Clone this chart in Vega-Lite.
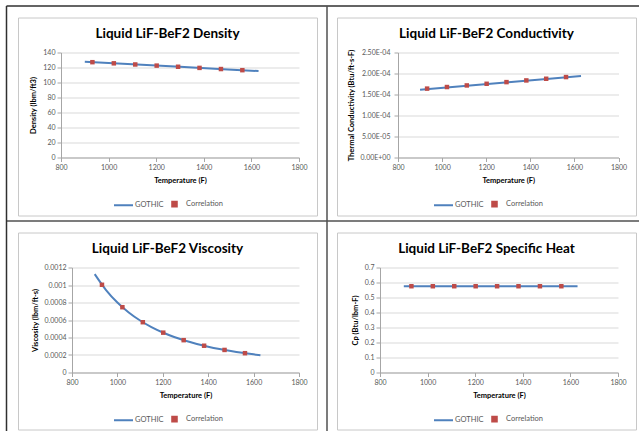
{
  "$schema": "https://vega.github.io/schema/vega-lite/v6.json",
  "background": "white",
  "padding": {"left": 2, "top": 4.5, "right": 0, "bottom": 0},
  "bounds": "flush",
  "columns": 2,
  "spacing": {"row": 17, "column": 20},
  "resolve": {"scale": {"color": "independent"}, "legend": {"color": "independent"}},
  "config": {
    "view": {"stroke": "#c8c8c8", "strokeWidth": 1},
    "title": {"font": "Lato", "fontSize": 13.5, "fontWeight": "bold", "color": "#000000", "anchor": "middle", "frame": "group", "offset": -23, "baseline": "alphabetic"},
    "axis": {"labelFont": "Lato", "labelFontSize": 7, "labelColor": "#595959", "titleFont": "Lato", "titleFontSize": 7.5, "titleFontWeight": "bold", "titleColor": "#000000", "domainColor": "#a6a6a6", "tickColor": "#a6a6a6", "tickSize": 4, "labelPadding": 2, "gridColor": "#d9d9d9", "labelOverlap": false, "labelFlush": false},
    "axisX": {"grid": false, "titlePadding": 6},
    "axisY": {"grid": true, "titlePadding": 5},
    "legend": {"orient": "none", "direction": "horizontal", "legendY": 176, "labelFont": "Lato", "labelFontSize": 7.5, "labelColor": "#595959", "symbolSize": 361, "labelOffset": 1, "columnPadding": 0}
  },
  "concat": [
    {
      "width": 299, "height": 198,
      "title": {"text": "Liquid LiF-BeF2 Density", "offset": -35.25},
      "resolve": {"scale": {"x": "independent", "y": "independent"}, "axis": {"x": "independent", "y": "independent"}},
      "layer": [
        {
          "encoding": {
            "x": {"field": "T", "type": "quantitative", "scale": {"domain": [800, 1800], "range": [43, 281], "nice": false}, "axis": {"orient": "bottom", "values": [800, 1000, 1200, 1400, 1600, 1800], "format": "d", "offset": -58, "title": "Temperature (F)"}},
            "y": {"field": "v", "type": "quantitative", "scale": {"domain": [0, 140], "range": [140, 35], "nice": false}, "axis": {"orient": "left", "values": [0, 20, 40, 60, 80, 100, 120, 140], "format": "d", "offset": -43, "title": "Density (lbm/ft3)"}},
            "color": {"field": "series", "type": "nominal", "scale": {"domain": ["GOTHIC", "Correlation"], "range": ["#4F81BD", "#BE4B48"]}, "legend": {"title": null, "legendX": 95, "encode": {"symbols": {"update": {"shape": {"signal": "datum.value === 'GOTHIC' ? 'stroke' : 'M-0.24,-0.24H0.24V0.24H-0.24Z'"}, "fill": {"signal": "datum.value === 'GOTHIC' ? 'transparent' : '#BE4B48'"}, "stroke": {"signal": "datum.value === 'GOTHIC' ? '#4F81BD' : 'transparent'"}, "strokeWidth": {"value": 2}, "opacity": {"value": 1}}}}}}
          },
          "layer": [
            {
              "data": {"values": [
                {"T": 900, "v": 127.63, "series": "GOTHIC"},
                {"T": 1100, "v": 124.24, "series": "GOTHIC"},
                {"T": 1300, "v": 120.86, "series": "GOTHIC"},
                {"T": 1500, "v": 117.47, "series": "GOTHIC"},
                {"T": 1630, "v": 115.27, "series": "GOTHIC"}
              ]},
              "mark": {"type": "line", "strokeWidth": 2}
            },
            {
              "data": {"values": [
                {"T": 932, "v": 127.09, "series": "Correlation"},
                {"T": 1022, "v": 125.57, "series": "Correlation"},
                {"T": 1112, "v": 124.04, "series": "Correlation"},
                {"T": 1202, "v": 122.52, "series": "Correlation"},
                {"T": 1292, "v": 121.00, "series": "Correlation"},
                {"T": 1382, "v": 119.48, "series": "Correlation"},
                {"T": 1472, "v": 117.95, "series": "Correlation"},
                {"T": 1562, "v": 116.43, "series": "Correlation"}
              ]},
              "mark": {"type": "point", "shape": "square", "filled": true, "size": 20, "opacity": 1}
            }
          ]
        },
        {
          "data": {"values": [{"a": 0, "b": 0}]},
          "mark": {"type": "point", "opacity": 0},
          "encoding": {
            "x": {"field": "a", "type": "quantitative", "scale": {"domain": [0, 1], "range": [-12, 624], "nice": false, "zero": false}, "axis": {"orient": "top", "offset": 12, "ticks": false, "labels": false, "grid": false, "title": null, "domainColor": "#303030", "domainWidth": 1.5}},
            "y": {"field": "b", "type": "quantitative", "scale": {"domain": [0, 1], "range": [414, -12], "nice": false, "zero": false}, "axis": {"orient": "left", "offset": 12, "ticks": false, "labels": false, "grid": false, "title": null, "domainColor": "#303030", "domainWidth": 1.5}}
          }
        },
        {
          "data": {"values": [{"a": 0, "b": 0}]},
          "mark": {"type": "point", "opacity": 0},
          "encoding": {
            "x": {"field": "a", "type": "quantitative", "scale": {"domain": [0, 1], "range": [-12, 624], "nice": false, "zero": false}, "axis": {"orient": "bottom", "offset": 5, "ticks": false, "labels": false, "grid": false, "title": null, "domainColor": "#505050", "domainWidth": 1.5}},
            "y": {"field": "b", "type": "quantitative", "scale": {"domain": [0, 1], "range": [414, -12], "nice": false, "zero": false}, "axis": {"orient": "right", "offset": 9.5, "ticks": false, "labels": false, "grid": false, "title": null, "domainColor": "#505050", "domainWidth": 1.5}}
          }
        }
      ]
    },
    {
      "width": 299, "height": 198,
      "title": "Liquid LiF-BeF2 Conductivity",
      "encoding": {
        "x": {"field": "T", "type": "quantitative", "scale": {"domain": [800, 1800], "range": [61, 281.5], "nice": false}, "axis": {"values": [800, 1000, 1200, 1400, 1600, 1800], "format": "d", "offset": -58, "title": "Temperature (F)"}},
        "y": {"field": "v", "type": "quantitative", "scale": {"domain": [0, 0.00025], "range": [140, 35], "nice": false}, "axis": {"values": [0, 0.00005, 0.0001, 0.00015, 0.0002, 0.00025], "offset": -61, "labelPadding": 4, "title": "Thermal Conductivity (Btu/ft-s-F)", "titlePadding": 4, "labelExpr": "replace(replace(format(datum.value, '.2e'), 'e-', 'E-0'), 'e+', 'E+0')"}},
        "color": {"field": "series", "type": "nominal", "scale": {"domain": ["GOTHIC", "Correlation"], "range": ["#4F81BD", "#BE4B48"]}, "legend": {"title": null, "legendX": 96, "encode": {"symbols": {"update": {"shape": {"signal": "datum.value === 'GOTHIC' ? 'stroke' : 'M-0.24,-0.24H0.24V0.24H-0.24Z'"}, "fill": {"signal": "datum.value === 'GOTHIC' ? 'transparent' : '#BE4B48'"}, "stroke": {"signal": "datum.value === 'GOTHIC' ? '#4F81BD' : 'transparent'"}, "strokeWidth": {"value": 2}, "opacity": {"value": 1}}}}}}
      },
      "layer": [
        {
          "data": {"values": [
            {"T": 900, "v": 0.00016159, "series": "GOTHIC"},
            {"T": 1100, "v": 0.00017050, "series": "GOTHIC"},
            {"T": 1300, "v": 0.00017942, "series": "GOTHIC"},
            {"T": 1500, "v": 0.00018834, "series": "GOTHIC"},
            {"T": 1630, "v": 0.00019413, "series": "GOTHIC"}
          ]},
          "mark": {"type": "line", "strokeWidth": 2}
        },
        {
          "data": {"values": [
            {"T": 932, "v": 0.0001640, "series": "Correlation"},
            {"T": 1022, "v": 0.0001678, "series": "Correlation"},
            {"T": 1112, "v": 0.0001716, "series": "Correlation"},
            {"T": 1202, "v": 0.0001755, "series": "Correlation"},
            {"T": 1292, "v": 0.0001795, "series": "Correlation"},
            {"T": 1382, "v": 0.0001835, "series": "Correlation"},
            {"T": 1472, "v": 0.0001875, "series": "Correlation"},
            {"T": 1562, "v": 0.0001915, "series": "Correlation"}
          ]},
          "mark": {"type": "point", "shape": "square", "filled": true, "size": 20, "opacity": 1}
        }
      ]
    },
    {
      "width": 299, "height": 197,
      "title": "Liquid LiF-BeF2 Viscosity",
      "encoding": {
        "x": {"field": "T", "type": "quantitative", "scale": {"domain": [800, 1800], "range": [54, 281], "nice": false}, "axis": {"values": [800, 1000, 1200, 1400, 1600, 1800], "format": "d", "offset": -57, "title": "Temperature (F)"}},
        "y": {"field": "v", "type": "quantitative", "scale": {"domain": [0, 0.0012], "range": [140, 35], "nice": false}, "axis": {"values": [0, 0.0002, 0.0004, 0.0006, 0.0008, 0.001, 0.0012], "format": ".2~g", "offset": -54, "title": "Viscosity (lbm/ft-s)"}},
        "color": {"field": "series", "type": "nominal", "scale": {"domain": ["GOTHIC", "Correlation"], "range": ["#4F81BD", "#BE4B48"]}, "legend": {"title": null, "legendX": 95, "encode": {"symbols": {"update": {"shape": {"signal": "datum.value === 'GOTHIC' ? 'stroke' : 'M-0.24,-0.24H0.24V0.24H-0.24Z'"}, "fill": {"signal": "datum.value === 'GOTHIC' ? 'transparent' : '#BE4B48'"}, "stroke": {"signal": "datum.value === 'GOTHIC' ? '#4F81BD' : 'transparent'"}, "strokeWidth": {"value": 2}, "opacity": {"value": 1}}}}}}
      },
      "layer": [
        {
          "data": {"values": [
            {"T": 900, "v": 0.0011239, "series": "GOTHIC"},
            {"T": 950, "v": 0.0009423, "series": "GOTHIC"},
            {"T": 1000, "v": 0.0007995, "series": "GOTHIC"},
            {"T": 1050, "v": 0.0006858, "series": "GOTHIC"},
            {"T": 1100, "v": 0.0005941, "series": "GOTHIC"},
            {"T": 1150, "v": 0.0005193, "series": "GOTHIC"},
            {"T": 1200, "v": 0.0004576, "series": "GOTHIC"},
            {"T": 1250, "v": 0.0004062, "series": "GOTHIC"},
            {"T": 1300, "v": 0.0003631, "series": "GOTHIC"},
            {"T": 1350, "v": 0.0003265, "series": "GOTHIC"},
            {"T": 1400, "v": 0.0002953, "series": "GOTHIC"},
            {"T": 1450, "v": 0.0002685, "series": "GOTHIC"},
            {"T": 1500, "v": 0.0002453, "series": "GOTHIC"},
            {"T": 1550, "v": 0.0002251, "series": "GOTHIC"},
            {"T": 1600, "v": 0.0002075, "series": "GOTHIC"},
            {"T": 1630, "v": 0.0001979, "series": "GOTHIC"}
          ]},
          "mark": {"type": "line", "strokeWidth": 2, "interpolate": "monotone"}
        },
        {
          "data": {"values": [
            {"T": 932, "v": 0.0010026, "series": "Correlation"},
            {"T": 1022, "v": 0.0007463, "series": "Correlation"},
            {"T": 1112, "v": 0.0005748, "series": "Correlation"},
            {"T": 1202, "v": 0.0004554, "series": "Correlation"},
            {"T": 1292, "v": 0.0003695, "series": "Correlation"},
            {"T": 1382, "v": 0.0003060, "series": "Correlation"},
            {"T": 1472, "v": 0.0002579, "series": "Correlation"},
            {"T": 1562, "v": 0.0002207, "series": "Correlation"}
          ]},
          "mark": {"type": "point", "shape": "square", "filled": true, "size": 20, "opacity": 1}
        }
      ]
    },
    {
      "width": 299, "height": 197,
      "title": "Liquid LiF-BeF2 Specific Heat",
      "encoding": {
        "x": {"field": "T", "type": "quantitative", "scale": {"domain": [800, 1800], "range": [43, 281], "nice": false}, "axis": {"values": [800, 1000, 1200, 1400, 1600, 1800], "format": "d", "offset": -57, "title": "Temperature (F)"}},
        "y": {"field": "v", "type": "quantitative", "scale": {"domain": [0, 0.7], "range": [140, 35], "nice": false}, "axis": {"values": [0, 0.1, 0.2, 0.3, 0.4, 0.5, 0.6, 0.7], "format": "~g", "offset": -43, "title": "Cp (Btu/lbm-F)"}},
        "color": {"field": "series", "type": "nominal", "scale": {"domain": ["GOTHIC", "Correlation"], "range": ["#4F81BD", "#BE4B48"]}, "legend": {"title": null, "legendX": 96, "encode": {"symbols": {"update": {"shape": {"signal": "datum.value === 'GOTHIC' ? 'stroke' : 'M-0.24,-0.24H0.24V0.24H-0.24Z'"}, "fill": {"signal": "datum.value === 'GOTHIC' ? 'transparent' : '#BE4B48'"}, "stroke": {"signal": "datum.value === 'GOTHIC' ? '#4F81BD' : 'transparent'"}, "strokeWidth": {"value": 2}, "opacity": {"value": 1}}}}}}
      },
      "layer": [
        {
          "data": {"values": [
            {"T": 900, "v": 0.575, "series": "GOTHIC"},
            {"T": 1630, "v": 0.575, "series": "GOTHIC"}
          ]},
          "mark": {"type": "line", "strokeWidth": 2}
        },
        {
          "data": {"values": [
            {"T": 932, "v": 0.575, "series": "Correlation"},
            {"T": 1022, "v": 0.575, "series": "Correlation"},
            {"T": 1112, "v": 0.575, "series": "Correlation"},
            {"T": 1202, "v": 0.575, "series": "Correlation"},
            {"T": 1292, "v": 0.575, "series": "Correlation"},
            {"T": 1382, "v": 0.575, "series": "Correlation"},
            {"T": 1472, "v": 0.575, "series": "Correlation"},
            {"T": 1562, "v": 0.575, "series": "Correlation"}
          ]},
          "mark": {"type": "point", "shape": "square", "filled": true, "size": 20, "opacity": 1}
        }
      ]
    }
  ]
}
